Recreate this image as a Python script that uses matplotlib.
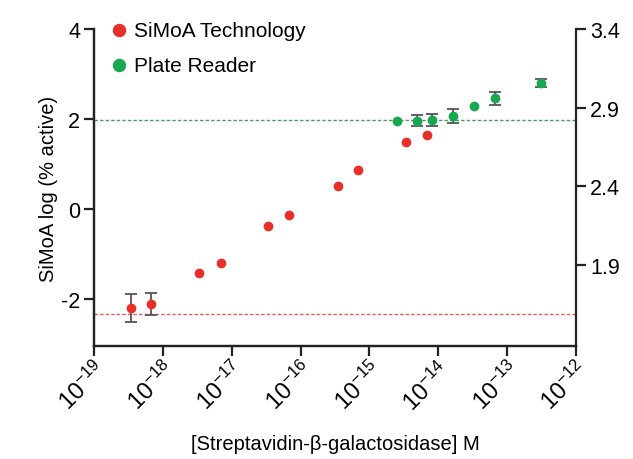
import matplotlib
matplotlib.use('Agg')
import matplotlib.pyplot as plt

plt.rcParams['font.family'] = ['Liberation Sans', 'DejaVu Sans']
plt.rcParams['mathtext.fontset'] = 'custom'
plt.rcParams['mathtext.rm'] = 'Liberation Sans'
plt.rcParams['mathtext.it'] = 'Liberation Sans'
plt.rcParams['axes.unicode_minus'] = False

# SiMoA (left axis)
simoa_conc = [3.4e-19, 6.7e-19, 3.4e-18, 6.9e-18, 3.4e-17, 6.8e-17, 3.5e-16, 6.9e-16, 3.4e-15, 6.9e-15]
simoa_val = [-2.20, -2.11, -1.43, -1.20, -0.38, -0.12, 0.51, 0.86, 1.48, 1.64]
simoa_err = [0.31, 0.245, 0, 0, 0, 0, 0, 0, 0, 0]

# Plate reader (right axis)
plate_conc = [2.5e-15, 4.85e-15, 8.2e-15, 1.66e-14, 3.35e-14, 6.7e-14, 3.07e-13]
plate_val = [2.816, 2.818, 2.824, 2.846, 2.909, 2.960, 3.055]
plate_err = [0, 0.034, 0.038, 0.045, 0, 0.042, 0.025]

simoa_floor = -2.33
plate_floor = 2.824

x_ticks = [1e-19, 1e-18, 1e-17, 1e-16, 1e-15, 1e-14, 1e-13, 1e-12]
x_labels = ['$10^{-19}$', '$10^{-18}$', '$10^{-17}$', '$10^{-16}$', '$10^{-15}$', '$10^{-14}$', '$10^{-13}$', '$10^{-12}$']
left_ticks = [-2, 0, 2, 4]
right_ticks = [1.9, 2.4, 2.9, 3.4]

red = '#e8302a'
green = '#17a851'
ecol = '#555555'

fig = plt.figure(figsize=(6.33, 4.6), dpi=100)
ax = fig.add_axes([0.1485, 0.2457, 0.7615, 0.6891])
ax2 = ax.twinx()

ax.set_xscale('log')
ax.set_xlim(1e-19, 1e-12)
ax.set_ylim(-3.04, 4.0)
ax2.set_ylim(1.387, 3.4)

ax.axhline(simoa_floor, color='#e06060', lw=1, ls=(0, (2.5, 1.5)), zorder=1)
ax2.axhline(plate_floor, color='#4f9a65', lw=1, ls=(0, (2.5, 1.5)), zorder=1)

# error bars only where there is an error
se = [(c, v, e) for c, v, e in zip(simoa_conc, simoa_val, simoa_err) if e > 0]
pe = [(c, v, e) for c, v, e in zip(plate_conc, plate_val, plate_err) if e > 0]
ax.errorbar([p[0] for p in se], [p[1] for p in se], yerr=[p[2] for p in se], fmt='none',
            ecolor=ecol, elinewidth=1.3, capsize=4, capthick=1.3, zorder=2)
ax2.errorbar([p[0] for p in pe], [p[1] for p in pe], yerr=[p[2] for p in pe], fmt='none',
             ecolor=ecol, elinewidth=1.3, capsize=4, capthick=1.3, zorder=2)

ax.plot(simoa_conc, simoa_val, 'o', color=red, ms=6, zorder=3)
ax2.plot(plate_conc, plate_val, 'o', color=green, ms=6, zorder=3)

ax.set_xticks(x_ticks)
ax.set_xticklabels(x_labels, rotation=45, ha='right', rotation_mode='anchor')
ax.minorticks_off()
ax.set_yticks(left_ticks)
ax2.set_yticks(right_ticks)
ax2.set_yticklabels([str(t) for t in right_ticks])

for a in (ax, ax2):
    a.spines['top'].set_visible(False)
    for s in a.spines.values():
        s.set_linewidth(1.6)
        s.set_color('#222222')
    a.tick_params(width=1.6, length=7, labelsize=15.5, color='#222222', pad=3)
ax.spines['right'].set_visible(False)
ax.tick_params(axis='x', labelsize=17, pad=1)

ax.set_ylabel('SiMoA log (% active)', fontsize=14.5, labelpad=2)
ax.set_xlabel('[Streptavidin-β-galactosidase] M', fontsize=14.5, labelpad=14)

h1 = ax.scatter([], [], color=red, s=75, label='SiMoA Technology')
h2 = ax.scatter([], [], color=green, s=75, label='Plate Reader')
ax.legend(handles=[h1, h2], loc='upper left', bbox_to_anchor=(0.0, 1.065),
          frameon=False, fontsize=15, handletextpad=0.1, labelspacing=0.75,
          borderaxespad=0.2, handlelength=1.2)

fig.savefig('out.png', dpi=100)
